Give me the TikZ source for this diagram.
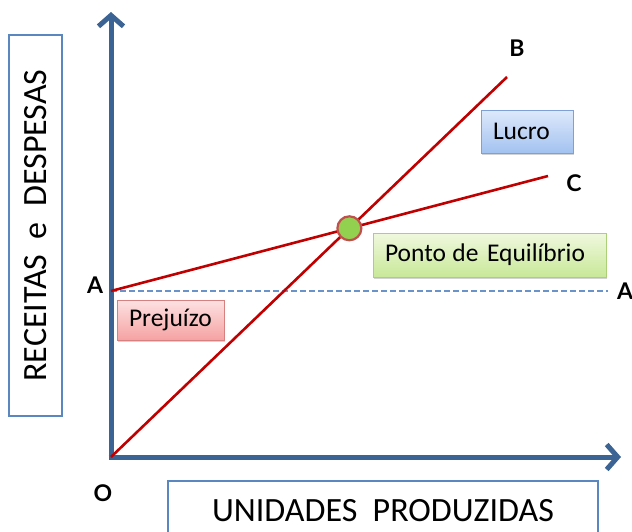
\documentclass[tikz,border=0pt]{standalone}
\usepackage{fontspec}
\setmainfont{Carlito}
\newfontfamily\pointfont{Lato}
\usetikzlibrary{arrows.meta,positioning,shadows}

\definecolor{axisblue}{HTML}{3B6494}
\definecolor{framblue}{HTML}{5B87C0}
\definecolor{linered}{HTML}{C00000}
\definecolor{dashblue}{HTML}{6A93CB}
\definecolor{eqgreen}{HTML}{92D050}
\definecolor{eqring}{HTML}{C0504D}

\begin{document}
\begin{tikzpicture}[x=1pt,y=-1pt,>={Straight Barb[length=11pt,width=25pt]},
    axis/.style={draw=axisblue,line width=5pt,->},
    curve/.style={draw=linered,line width=2.6pt},
    point/.style={font=\fontsize{23}{23}\pointfont\bfseries},
    frame/.style={draw=framblue,line width=2pt,fill=white,
        font=\fontsize{34}{34}\selectfont},
    tag/.style={line width=1pt,inner xsep=12pt,align=left,
        font=\fontsize{25.5}{26}\selectfont,
        drop shadow={shadow xshift=1.2pt,shadow yshift=-1.5pt,opacity=.35}}]

\useasboundingbox (0,0) rectangle (632,531);

\coordinate (O) at (111,457);
\coordinate (A) at (111,291);
\coordinate (B) at (507,77);
\coordinate (C) at (548,176);
\coordinate (A2) at (608,291);

% axes
\draw [axis] ([yshift=2.5pt]O) -- (111,12);
\draw [axis] ([xshift=-2.5pt]O) -- (621,457);

% break-even dashed level
\draw [dashblue,line width=1.4pt,dash pattern=on 6pt off 3pt] (A) -- (A2);

% revenue and cost lines
\draw [curve] (O) -- (B);
\draw [curve] (A) -- (C);

\node [circle,draw=eqring,fill=eqgreen,line width=2.2pt,minimum size=24pt,
    inner sep=0pt] (eq) at (intersection of O--B and A--C) {};

% point names
\node [point] (lblB) at (517,48) {B};
\node [point] (lblC) at (574,183) {C};
\node [point] (lblA) at (95,285) {A};
\node [point] (lblA2) at (625,291) {A};
\node [point] (lblO) at (103,493) {O};

% axis captions
\node [frame,rotate=90,minimum width=381pt,minimum height=53pt] (ylab)
    at (35.5,225.5) {RECEITAS\ \ e\ \ DESPESAS};
\node [frame,minimum width=430pt,minimum height=60pt] (xlab)
    at (383,511) {UNIDADES\ \ PRODUZIDAS};

% region tags
\node [tag,draw={rgb,255:red,125;green,160;blue,215},
    top color={rgb,255:red,222;green,233;blue,251},
    bottom color={rgb,255:red,163;green,194;blue,240},
    text width=68pt,minimum height=43pt] (lucro) at (527,131.5) {Lucro};
\node [tag,draw={rgb,255:red,172;green,208;blue,120},
    top color={rgb,255:red,240;green,248;blue,222},
    bottom color={rgb,255:red,200;green,232;blue,152},
    text width=209pt,minimum height=44pt] (ponto) at (489.5,255) {Ponto\hspace{-2pt} de Equilíbrio};
\node [tag,draw={rgb,255:red,214;green,128;blue,128},
    top color={rgb,255:red,253;green,226;blue,226},
    bottom color={rgb,255:red,245;green,162;blue,162},
    text width=83pt,minimum height=40pt] (prejuizo) at (170.5,320) {Prejuízo};

\end{tikzpicture}
\end{document}
